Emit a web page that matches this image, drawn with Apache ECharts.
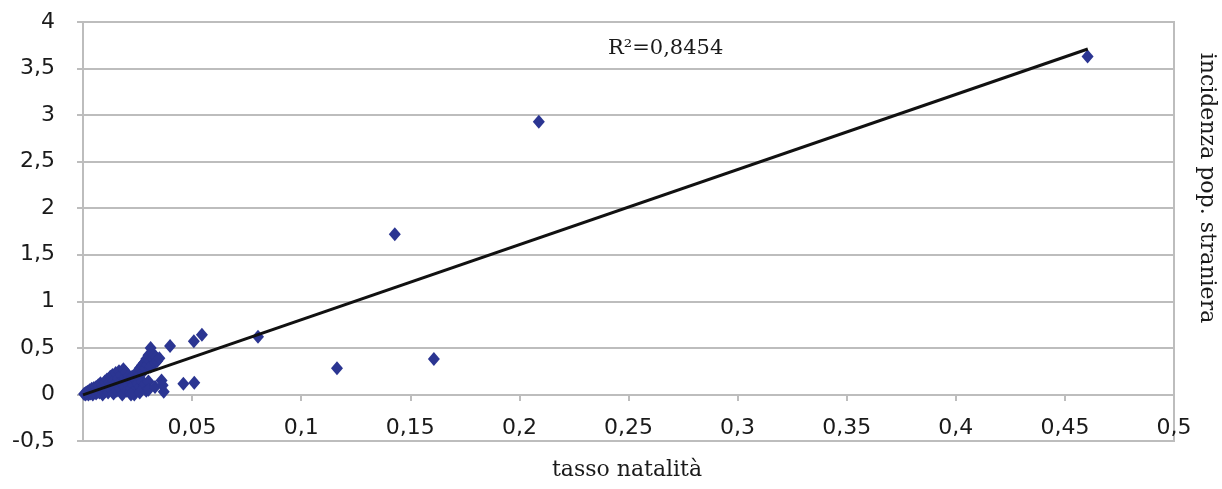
<!DOCTYPE html>
<html>
<head>
<meta charset="utf-8">
<script src="https://cdn.jsdelivr.net/npm/echarts@6/dist/echarts.min.js"></script>
<style>
  html, body { margin: 0; padding: 0; background: #fff; }
  #chart { width: 1222px; height: 489px; }
</style>
</head>
<body>
<div id="chart"></div>
<script>
// tasso natalità (x) vs incidenza pop. straniera (y)
const clusterPoints = [
  [0.0005, 0.005], [0.001, 0.01], [0.0012, 0.0], [0.0015, 0.02], [0.002, 0.01], [0.0022, 0.03],
  [0.0025, 0.0], [0.003, 0.02], [0.003, 0.045], [0.0035, 0.01], [0.004, 0.03], [0.004, 0.06],
  [0.0045, 0.0], [0.005, 0.02], [0.005, 0.07], [0.0055, 0.04], [0.006, 0.01], [0.006, 0.08],
  [0.0065, 0.03], [0.007, 0.05], [0.007, 0.1], [0.0075, 0.02], [0.008, 0.06], [0.008, 0.12],
  [0.0085, 0.04], [0.009, 0.0], [0.009, 0.1], [0.0095, 0.07], [0.01, 0.03], [0.01, 0.14],
  [0.0105, 0.05], [0.011, 0.1], [0.011, 0.16], [0.0115, 0.02], [0.012, 0.08], [0.012, 0.13],
  [0.0125, 0.19], [0.013, 0.05], [0.013, 0.11], [0.0135, 0.21], [0.014, 0.01], [0.014, 0.15],
  [0.0145, 0.08], [0.015, 0.23], [0.015, 0.12], [0.0155, 0.04], [0.016, 0.17], [0.016, 0.1],
  [0.0165, 0.25], [0.017, 0.06], [0.017, 0.14], [0.0175, 0.21], [0.018, 0.0], [0.018, 0.12],
  [0.0185, 0.27], [0.019, 0.08], [0.019, 0.18], [0.0195, 0.24], [0.02, 0.04], [0.02, 0.15],
  [0.0205, 0.11], [0.021, 0.2], [0.0215, 0.02], [0.022, 0.14], [0.022, 0.07], [0.0225, 0.19],
  [0.023, 0.1], [0.0235, 0.0], [0.024, 0.05], [0.024, 0.16], [0.025, 0.12], [0.025, 0.25],
  [0.0255, 0.2], [0.026, 0.08], [0.026, 0.28], [0.0265, 0.16], [0.027, 0.31], [0.027, 0.135],
  [0.0275, 0.24], [0.028, 0.34], [0.028, 0.1], [0.0285, 0.28], [0.029, 0.38], [0.029, 0.04],
  [0.0295, 0.32], [0.03, 0.42], [0.03, 0.14], [0.0305, 0.36], [0.031, 0.5], [0.031, 0.3],
  [0.0315, 0.45], [0.032, 0.38], [0.0325, 0.42], [0.033, 0.34], [0.0335, 0.4], [0.034, 0.36],
  [0.035, 0.39], [0.022, 0.0], [0.026, 0.02], [0.03, 0.05], [0.033, 0.08], [0.036, 0.15],
  [0.037, 0.03], [0.0365, 0.1]
];
const outlierPoints = [
  [0.0399, 0.52], [0.046, 0.115], [0.051, 0.125], [0.0508, 0.57], [0.0545, 0.64],
  [0.0802, 0.62], [0.1164, 0.28], [0.1429, 1.72], [0.1608, 0.38], [0.2089, 2.93], [0.4604, 3.63]
];
const trendLine = [[0, -0.005], [0.4605, 3.71]];
const rSquaredLabel = 'R\u00b2=0,8454';
const xAxisTitle = 'tasso natalità';
const yAxisTitle = 'incidenza pop. straniera';

const fmt = v => String(v).replace('.', ',');
const gridColor = '#bdbdbd';

const chart = echarts.init(document.getElementById('chart'));
chart.setOption({
  animation: false,
  grid: {
    left: 83, right: 48, top: 22, bottom: 48,
    show: true, borderColor: gridColor, borderWidth: 2
  },
  xAxis: {
    type: 'value',
    min: 0, max: 0.5, interval: 0.05,
    position: 'bottom',
    offset: -46,
    axisLine: { onZero: false, lineStyle: { color: gridColor, width: 2 } },
    axisTick: { show: true, length: 6, lineStyle: { color: gridColor, width: 2 } },
    axisLabel: {
      showMinLabel: false, margin: 22,
      fontFamily: 'DejaVu Sans', fontSize: 22, color: '#1a1a1a',
      formatter: fmt
    },
    splitLine: { show: false }
  },
  yAxis: {
    type: 'value',
    min: -0.5, max: 4, interval: 0.5,
    axisLine: { show: true, lineStyle: { color: gridColor, width: 2 } },
    axisTick: { show: true, length: 6, lineStyle: { color: gridColor, width: 2 } },
    axisLabel: {
      margin: 28,
      fontFamily: 'DejaVu Sans', fontSize: 22, color: '#1a1a1a',
      formatter: fmt
    },
    splitLine: { lineStyle: { color: gridColor, width: 2 } }
  },
  graphic: [
    {
      type: 'text', left: 608, top: 38,
      style: { text: rSquaredLabel, font: '21px "DejaVu Serif"', fill: '#1a1a1a' }
    },
    {
      type: 'text', x: 627, y: 470,
      style: { text: xAxisTitle, font: '22px "DejaVu Serif"', fill: '#1a1a1a', align: 'center', verticalAlign: 'middle' }
    },
    {
      type: 'text', x: 1207, y: 188, rotation: -Math.PI / 2,
      style: { text: yAxisTitle, font: '22px "DejaVu Serif"', fill: '#1a1a1a', align: 'center', verticalAlign: 'middle' }
    }
  ],
  series: [
    {
      type: 'scatter',
      data: clusterPoints.concat(outlierPoints),
      symbol: 'diamond',
      symbolSize: [12, 14],
      itemStyle: { color: '#2b3592', opacity: 1 }
    },
    {
      type: 'line',
      data: trendLine,
      symbol: 'none',
      lineStyle: { color: '#111', width: 3 }
    }
  ]
});
</script>
</body>
</html>
